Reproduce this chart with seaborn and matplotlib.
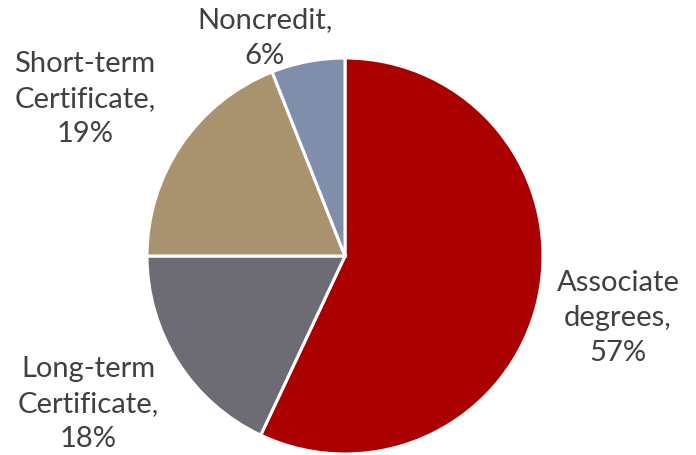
import matplotlib
matplotlib.use("Agg")
import matplotlib.pyplot as plt
import seaborn as sns

# Data
categories = ["Associate\ndegrees", "Long-term\nCertificate", "Short-term\nCertificate", "Noncredit"]
shares = [57, 18, 19, 6]
colors = ["#AA0000", "#6D6C74", "#A8936E", "#7F8EAB"]

sns.set_style("white")
plt.rcParams['font.family'] = ['Lato', 'DejaVu Sans']

W, H = 696, 455
fig = plt.figure(figsize=(W / 100, H / 100), dpi=100)
ax = fig.add_axes([0, 0, 1, 1])

labels = [f"{c},\n{v}%" for c, v in zip(categories, shares)]
wedges, texts = ax.pie(
    shares,
    labels=labels,
    colors=colors,
    startangle=90,
    counterclock=False,
    radius=198,
    center=(345, H - 256),
    wedgeprops=dict(edgecolor="white", linewidth=2.2),
    textprops=dict(fontsize=21, color="#404040", ha="center", va="center",
                   multialignment="center", linespacing=1.45),
)

# label placement (best-fit style positions)
label_pos = [(618, 318), (88, 404), (85, 99), (265, 38)]
for t, (x, y) in zip(texts, label_pos):
    t.set_position((x, H - y))
    t.set_ha("center")
    t.set_va("center")

ax.set_xlim(0, W)
ax.set_ylim(0, H)
ax.set_aspect("equal")
ax.axis("off")

fig.savefig("out.png", dpi=100, facecolor="white")
